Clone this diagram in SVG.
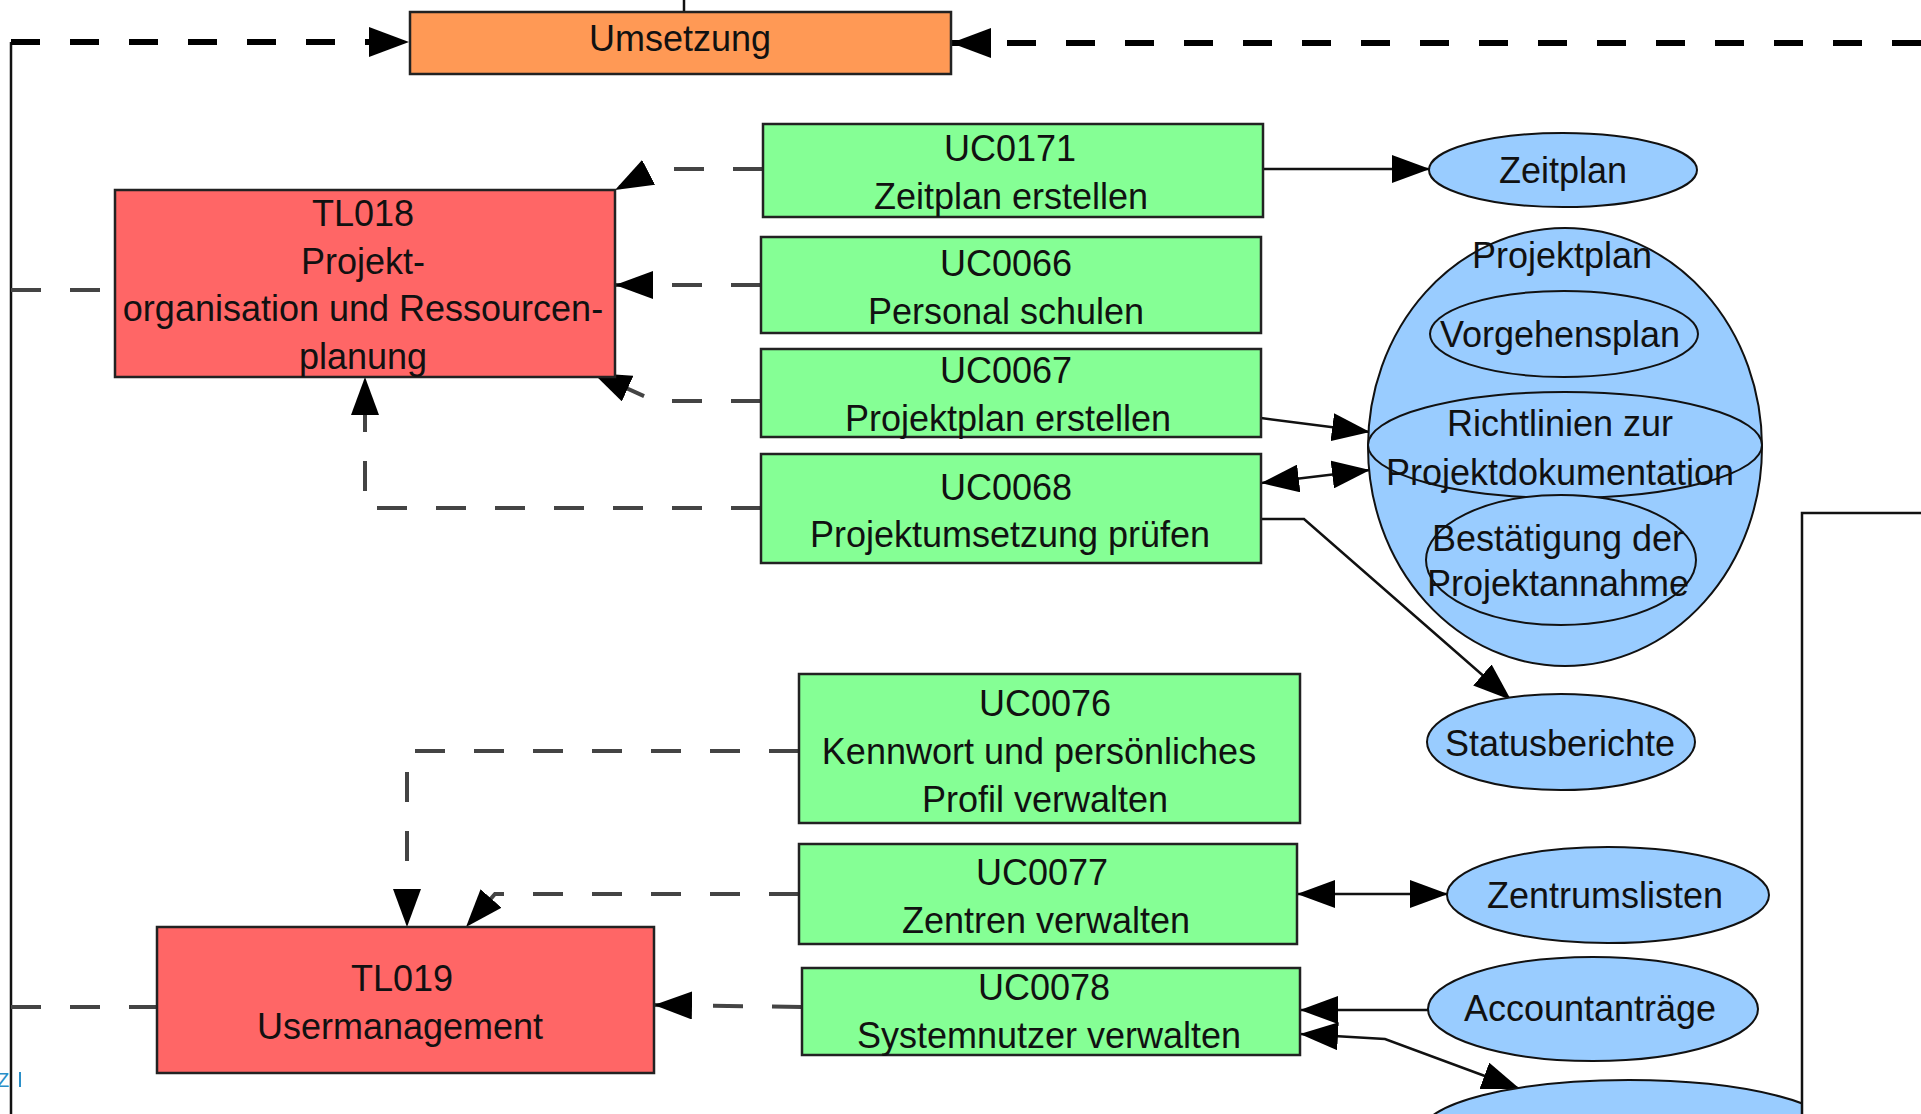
<svg xmlns="http://www.w3.org/2000/svg" width="1921" height="1114" viewBox="0 0 1921 1114">
<style>
text{font-family:"Liberation Sans",Arial,sans-serif;font-size:36px;fill:#111;text-anchor:middle}
.box{stroke:#222;stroke-width:2.5}
.uc{fill:#85ff95}
.tl{fill:#ff6666}
.um{fill:#ff9955}
.ell{fill:#99ccff;stroke:#111;stroke-width:2}
.dash{fill:none;stroke:#444;stroke-width:4;stroke-dasharray:30 29}
.dashb{fill:none;stroke:#000;stroke-width:6;stroke-dasharray:29 30}
.solid{fill:none;stroke:#111;stroke-width:2.5}
</style>
<defs>
<marker id="ah" markerUnits="userSpaceOnUse" markerWidth="38" markerHeight="28" refX="38" refY="14" orient="auto-start-reverse" viewBox="0 0 38 28">
<path d="M0,0 L38,14 L0,28 z" fill="#000"/>
</marker>
<marker id="ahb" markerUnits="userSpaceOnUse" markerWidth="40" markerHeight="30" refX="40" refY="15" orient="auto-start-reverse" viewBox="0 0 40 30">
<path d="M0,0 L40,15 L0,30 z" fill="#000"/>
</marker>
</defs>
<rect width="1921" height="1114" fill="#fff"/>

<g id="connectors">
<path class="solid" d="M684,0 L684,12"/>
<path class="solid" d="M11,1114 L11,42"/>
<path class="dashb" d="M11,42 L409,42" marker-end="url(#ahb)"/>
<path class="dashb" d="M1921,43 L951,43" marker-end="url(#ahb)"/>
<path class="dash" d="M11,290 L115,290"/>
<path class="dash" d="M11,1007 L157,1007"/>
<path class="dash" d="M763,169 L655,169 L615,190" marker-end="url(#ah)"/>
<path class="dash" d="M761,285 L615,285" marker-end="url(#ah)"/>
<path class="dash" d="M761,401 L655,401 L593,373" marker-end="url(#ah)"/>
<path class="dash" d="M761,508 L365,508 L365,377" marker-end="url(#ah)"/>
<path class="dash" d="M799,751 L407,751 L407,927" marker-end="url(#ah)"/>
<path class="dash" d="M799,894 L495,894 L466,927" marker-end="url(#ah)"/>
<path class="dash" d="M802,1007 L654,1005" marker-end="url(#ah)"/>
<path class="solid" d="M1263,169 L1430,169" marker-end="url(#ah)"/>
<path class="solid" d="M1261,418 L1370,432" marker-end="url(#ah)"/>
<path class="solid" d="M1261,483 L1370,470" marker-start="url(#ah)" marker-end="url(#ah)"/>
<path class="solid" d="M1261,519 L1304,519 L1511,700" marker-end="url(#ah)"/>
<path class="solid" d="M1297,894 L1448,894" marker-start="url(#ah)" marker-end="url(#ah)"/>
<path class="solid" d="M1428,1010 L1300,1010" marker-end="url(#ah)"/>
<path class="solid" d="M1300,1034 L1385,1039 L1520,1089" marker-start="url(#ah)" marker-end="url(#ah)"/>
</g>

<g id="umsetzung">
<rect class="box um" x="410" y="12" width="541" height="62"/>
<text x="680" y="51">Umsetzung</text>
</g>

<g id="tl018">
<rect class="box tl" x="115" y="190" width="500" height="187"/>
<text x="363" y="226">TL018</text>
<text x="363" y="274">Projekt-</text>
<text x="363" y="321">organisation und Ressourcen-</text>
<text x="363" y="369">planung</text>
</g>

<g id="tl019">
<rect class="box tl" x="157" y="927" width="497" height="146"/>
<text x="402" y="991">TL019</text>
<text x="400" y="1039">Usermanagement</text>
</g>

<g id="uc0171">
<rect class="box uc" x="763" y="124" width="500" height="93"/>
<text x="1010" y="161">UC0171</text>
<text x="1011" y="209">Zeitplan erstellen</text>
</g>

<g id="uc0066">
<rect class="box uc" x="761" y="237" width="500" height="96"/>
<text x="1006" y="276">UC0066</text>
<text x="1006" y="324">Personal schulen</text>
</g>

<g id="uc0067">
<rect class="box uc" x="761" y="349" width="500" height="88"/>
<text x="1006" y="383">UC0067</text>
<text x="1008" y="431">Projektplan erstellen</text>
</g>

<g id="uc0068">
<rect class="box uc" x="761" y="454" width="500" height="109"/>
<text x="1006" y="500">UC0068</text>
<text x="1010" y="547">Projektumsetzung prüfen</text>
</g>

<g id="uc0076">
<rect class="box uc" x="799" y="674" width="501" height="149"/>
<text x="1045" y="716">UC0076</text>
<text x="1039" y="764">Kennwort und persönliches</text>
<text x="1045" y="812">Profil verwalten</text>
</g>

<g id="uc0077">
<rect class="box uc" x="799" y="844" width="498" height="100"/>
<text x="1042" y="885">UC0077</text>
<text x="1046" y="933">Zentren verwalten</text>
</g>

<g id="uc0078">
<rect class="box uc" x="802" y="968" width="498" height="87"/>
<text x="1044" y="1000">UC0078</text>
<text x="1049" y="1048">Systemnutzer verwalten</text>
</g>

<g id="zeitplan">
<ellipse class="ell" cx="1563" cy="170" rx="134" ry="37"/>
<text x="1563" y="183">Zeitplan</text>
</g>

<g id="projektplan">
<ellipse class="ell" cx="1565" cy="447" rx="197" ry="219"/>
<text x="1562" y="268">Projektplan</text>
<g id="vorgehensplan">
<ellipse class="ell" cx="1564" cy="334" rx="134" ry="43"/>
<text x="1560" y="347">Vorgehensplan</text>
</g>
<g id="richtlinien">
<ellipse class="ell" cx="1565" cy="445" rx="197" ry="53"/>
<text x="1560" y="436">Richtlinien zur</text>
<text x="1560" y="485">Projektdokumentation</text>
</g>
<g id="bestaetigung">
<ellipse class="ell" cx="1561" cy="560" rx="135" ry="65"/>
<text x="1558" y="551">Bestätigung der</text>
<text x="1558" y="596">Projektannahme</text>
</g>
</g>

<g id="statusberichte">
<ellipse class="ell" cx="1561" cy="742" rx="134" ry="48"/>
<text x="1560" y="756">Statusberichte</text>
</g>

<g id="zentrumslisten">
<ellipse class="ell" cx="1608" cy="895" rx="161" ry="48"/>
<text x="1605" y="908">Zentrumslisten</text>
</g>

<g id="accountantraege">
<ellipse class="ell" cx="1593" cy="1009" rx="165" ry="52"/>
<text x="1590" y="1021">Accountanträge</text>
</g>

<g id="bottom-ellipse">
<ellipse class="ell" cx="1629" cy="1132" rx="207" ry="52"/>
</g>

<g id="right-node">
<rect x="1802" y="513" width="200" height="700" fill="#fff" stroke="#111" stroke-width="2.5"/>
</g>

<g id="edge-fragment">
<text x="-3" y="1087" style="font-size:20px;fill:#2a8fc8;text-anchor:start">Z</text>
<rect x="19" y="1072" width="2" height="15" fill="#2a8fc8"/>
</g>
</svg>
